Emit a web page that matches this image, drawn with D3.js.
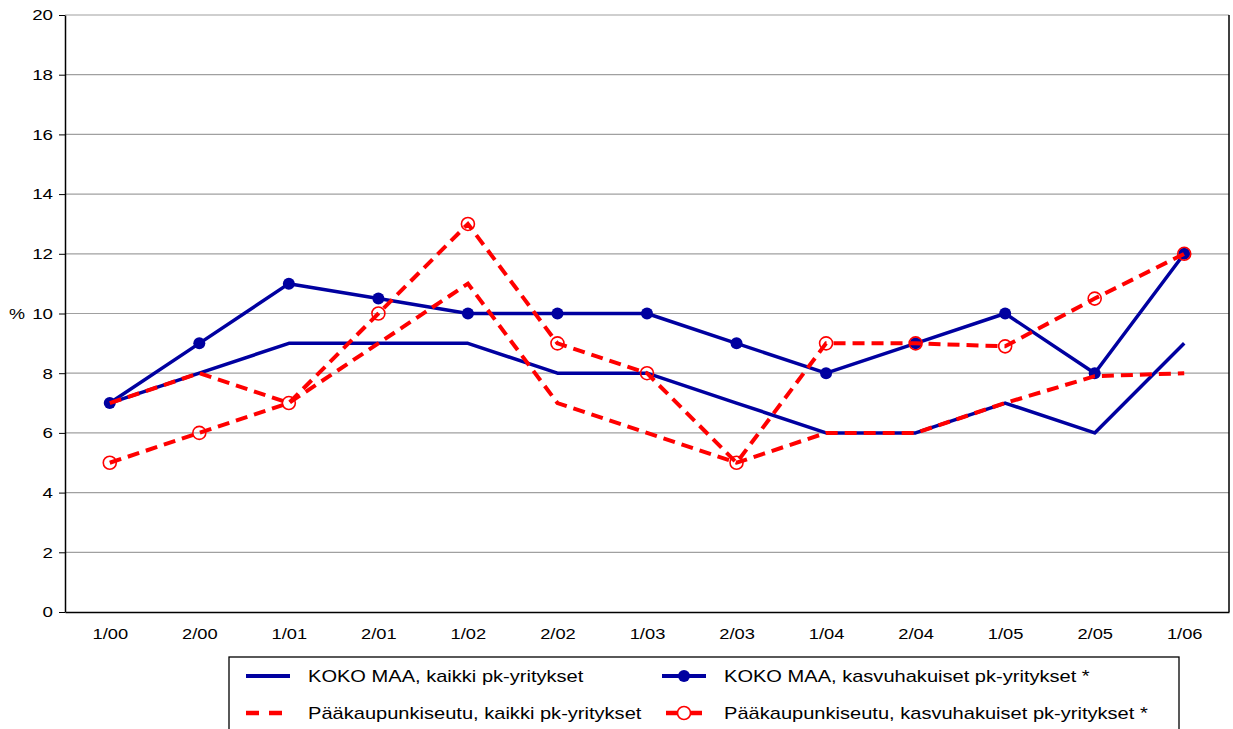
<!DOCTYPE html>
<head>
  <meta charset="utf-8" />
  <script src="https://d3js.org/d3.v7.min.js"></script>
  <style>
    body { margin: 0; background: #fff; }
    text { font-family: "Liberation Sans", Arial, sans-serif; fill: #000; }
  </style>
</head>
<body>
<script>
  // categories (half-years)
  var periods = ["1/00", "2/00", "1/01", "2/01", "1/02", "2/02", "1/03", "2/03", "1/04", "2/04", "1/05", "2/05", "1/06"];
  var yTicks = [0, 2, 4, 6, 8, 10, 12, 14, 16, 18, 20];

  var kokoKaikki = [7, 8, 9, 9, 9, 8, 8, 7, 6, 6, 7, 6, 9];
  var kokoKasvu = [7, 9, 11, 10.5, 10, 10, 10, 9, 8, 9, 10, 8, 12];
  var pkKaikki = [7, 8, 7, 9, 11, 7, 6, 5, 6, 6, 7, 7.9, 8];
  var pkKasvu = [5, 6, 7, 10, 13, 9, 8, 5, 9, 9, 8.9, 10.5, 12];

  var seriesNames = [
    "KOKO MAA, kaikki pk-yritykset",
    "KOKO MAA, kasvuhakuiset pk-yritykset *",
    "Pääkaupunkiseutu, kaikki pk-yritykset",
    "Pääkaupunkiseutu, kasvuhakuiset pk-yritykset *"
  ];

  var blue = "#0000a0", red = "#ff0000";
  var width = 1233, height = 729;
  var mLeft = 65, mRight = 1229, mTop = 15, mBottom = 612;

  var svg = d3.select("body").append("svg")
    .attr("width", width).attr("height", height);

  // the original font is wider than Liberation Sans, stretch the glyphs
  function stretch(sel, k) {
    sel.each(function () {
      var w = this.getComputedTextLength();
      d3.select(this).attr("textLength", w * k).attr("lengthAdjust", "spacingAndGlyphs");
    });
  }

  var x = d3.scalePoint().domain(periods).range([mLeft, mRight]).padding(0.5);
  var y = d3.scaleLinear().domain([0, 20]).range([mBottom, mTop]);

  // grid lines
  svg.append("g").selectAll("line")
    .data(yTicks.filter(function (d) { return d > 0; }))
    .join("line")
    .attr("x1", mLeft).attr("x2", mRight)
    .attr("y1", function (d) { return y(d); })
    .attr("y2", function (d) { return y(d); })
    .attr("stroke", "#a0a0a0").attr("stroke-width", 1.2);

  // right border
  svg.append("line")
    .attr("x1", mRight).attr("x2", mRight).attr("y1", mTop).attr("y2", mBottom)
    .attr("stroke", "#000").attr("stroke-width", 1.5);

  // y axis
  var yAxis = svg.append("g")
    .attr("transform", "translate(" + mLeft + ",0)")
    .call(d3.axisLeft(y).tickValues(yTicks).tickSize(6).tickPadding(6).tickSizeOuter(0));
  yAxis.selectAll("text").style("font-size", "15px").call(stretch, 1.25);
  yAxis.selectAll("line").attr("stroke", "#000");
  yAxis.select(".domain").attr("stroke", "#000").attr("stroke-width", 1.5);

  // x axis
  var xAxis = svg.append("g")
    .attr("transform", "translate(0," + mBottom + ")")
    .call(d3.axisBottom(x).tickSize(0).tickPadding(16).tickSizeOuter(0));
  xAxis.selectAll("text").style("font-size", "15px").call(stretch, 1.22);
  xAxis.select(".domain").attr("stroke", "#000").attr("stroke-width", 1.5);

  svg.append("text")
    .attr("x", 9).attr("y", y(10)).attr("dy", "0.35em")
    .style("font-size", "15px").text("%").call(stretch, 1.2);

  var line = d3.line()
    .x(function (d, i) { return x(periods[i]); })
    .y(function (d) { return y(d); });

  // blue series
  svg.append("path").datum(kokoKaikki)
    .attr("d", line).attr("fill", "none")
    .attr("stroke", blue).attr("stroke-width", 3.5).attr("stroke-linejoin", "round");
  svg.append("path").datum(kokoKasvu)
    .attr("d", line).attr("fill", "none")
    .attr("stroke", blue).attr("stroke-width", 3.5).attr("stroke-linejoin", "round");
  svg.append("g").selectAll("circle")
    .data(kokoKasvu).join("circle")
    .attr("cx", function (d, i) { return x(periods[i]); })
    .attr("cy", function (d) { return y(d); })
    .attr("r", 6).attr("fill", blue);

  // red series
  svg.append("path").datum(pkKaikki)
    .attr("d", line).attr("fill", "none")
    .attr("stroke", red).attr("stroke-width", 4).attr("stroke-dasharray", "12,7");
  svg.append("path").datum(pkKasvu)
    .attr("d", line).attr("fill", "none")
    .attr("stroke", red).attr("stroke-width", 4).attr("stroke-dasharray", "12,7");
  svg.append("g").selectAll("circle")
    .data(pkKasvu).join("circle")
    .attr("cx", function (d, i) { return x(periods[i]); })
    .attr("cy", function (d) { return y(d); })
    .attr("r", 6.5).attr("fill", "none")
    .attr("stroke", red).attr("stroke-width", 1.6);

  // legend
  var lg = svg.append("g");
  lg.append("rect")
    .attr("x", 229).attr("y", 657).attr("width", 950).attr("height", 90)
    .attr("fill", "#fff").attr("stroke", "#000").attr("stroke-width", 1.3);

  var legendItems = [
    { name: seriesNames[0], col: 0, row: 0, color: blue, dash: null, marker: null },
    { name: seriesNames[1], col: 1, row: 0, color: blue, dash: null, marker: "filled" },
    { name: seriesNames[2], col: 0, row: 1, color: red, dash: "13,10", marker: null },
    { name: seriesNames[3], col: 1, row: 1, color: red, dash: "13,10", marker: "open" }
  ];
  var colX = [246, 662], rowY = [676, 713];

  legendItems.forEach(function (it) {
    var x0 = colX[it.col], yy = rowY[it.row];
    var l = lg.append("line")
      .attr("x1", x0).attr("x2", x0 + 44).attr("y1", yy).attr("y2", yy)
      .attr("stroke", it.color).attr("stroke-width", it.row === 0 ? 4 : 4.5);
    if (it.dash && !it.marker) l.attr("stroke-dasharray", it.dash);
    if (it.marker === "filled") {
      lg.append("circle").attr("cx", x0 + 22).attr("cy", yy).attr("r", 6).attr("fill", it.color);
    }
    if (it.marker === "open") {
      l.attr("x1", x0 + 4).attr("x2", x0 + 40);
      lg.append("circle").attr("cx", x0 + 22).attr("cy", yy).attr("r", 6.5)
        .attr("fill", "#fff").attr("stroke", it.color).attr("stroke-width", 1.6);
    }
    lg.append("text")
      .attr("x", x0 + 62).attr("y", yy).attr("dy", "0.35em")
      .style("font-size", "17px").text(it.name).call(stretch, 1.18);
  });
</script>
</body>
